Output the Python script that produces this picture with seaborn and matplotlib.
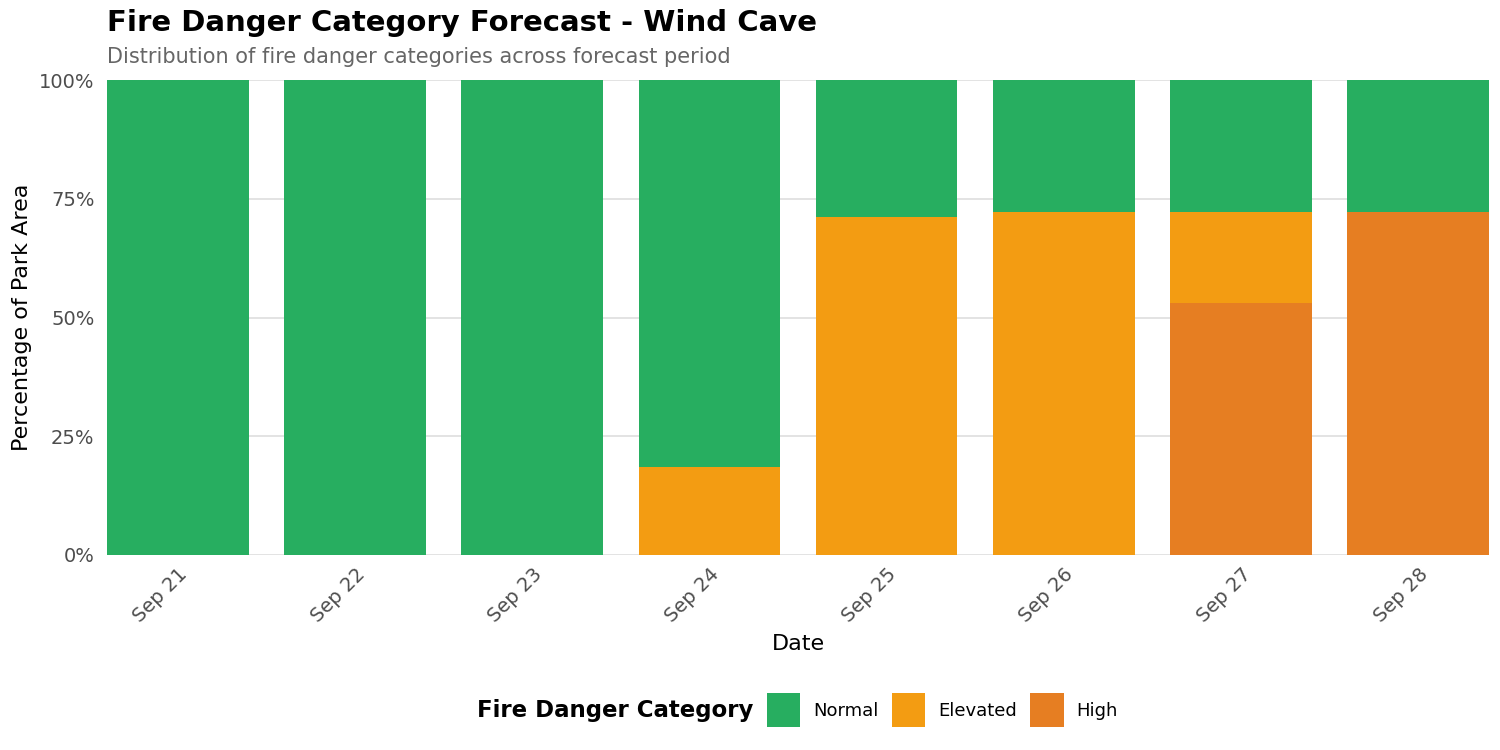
import pandas as pd
import numpy as np
import matplotlib.pyplot as plt
import seaborn as sns
from matplotlib.patches import Patch
from matplotlib.ticker import PercentFormatter

# --- data (percent of park area per category) ---
dates = ['Sep 21', 'Sep 22', 'Sep 23', 'Sep 24', 'Sep 25', 'Sep 26', 'Sep 27', 'Sep 28']
normal = [100.0, 100.0, 100.0, 81.5, 28.8, 27.8, 27.8, 27.8]
elevated = [0.0, 0.0, 0.0, 18.5, 71.2, 72.2, 19.1, 0.0]
high = [0.0, 0.0, 0.0, 0.0, 0.0, 0.0, 53.1, 72.2]

categories = ['Normal', 'Elevated', 'High']
colors = {'Normal': '#27ae60', 'Elevated': '#f39c12', 'High': '#e67e22'}

df = pd.DataFrame({'Date': dates, 'Normal': normal, 'Elevated': elevated, 'High': high})
# cumulative heights for stacking (High at the bottom)
df['top_high'] = df['High']
df['top_elev'] = df['High'] + df['Elevated']
df['top_normal'] = df['top_elev'] + df['Normal']

sns.set_style('white')
plt.rcParams['font.family'] = ['DejaVu Sans']
plt.rcParams['text.color'] = 'black'
plt.rcParams['axes.labelcolor'] = 'black'

fig = plt.figure(figsize=(15, 7.5), dpi=100)
ax = fig.add_axes([0.0713, 0.26, 0.9214, 0.6333])

# draw from tallest layer to shortest so they stack visually
for col, cat in [('top_normal', 'Normal'), ('top_elev', 'Elevated'), ('top_high', 'High')]:
    sns.barplot(data=df, x='Date', y=col, color=colors[cat], width=0.8,
                saturation=1, ax=ax, zorder=2, linewidth=0)

ax.set_xlim(-0.4, len(dates) - 0.6)
ax.set_ylim(0, 100)
ax.set_yticks([0, 25, 50, 75, 100])
ax.yaxis.set_major_formatter(PercentFormatter(decimals=0))
ax.grid(axis='y', color='#e0e0e0', linewidth=1.3, zorder=0)
ax.grid(axis='x', visible=False)
ax.set_axisbelow(True)
for s in ax.spines.values():
    s.set_visible(False)

ax.tick_params(axis='both', length=0, labelsize=14, labelcolor='#4d4d4d')
ax.tick_params(axis='y', pad=9)
ax.tick_params(axis='x', pad=7)
for lab in ax.get_xticklabels():
    lab.set_rotation(45)
    lab.set_ha('right')
    lab.set_rotation_mode('anchor')

ax.set_xlabel('Date', fontsize=16, labelpad=6)
ax.set_ylabel('Percentage of Park Area', fontsize=16, labelpad=5)

fig.text(0.0713, 0.988, 'Fire Danger Category Forecast - Wind Cave',
         fontsize=21, fontweight='bold', va='top', ha='left')
fig.text(0.0713, 0.937, 'Distribution of fire danger categories across forecast period',
         fontsize=15, color='#666666', va='top', ha='left')

# legend at the bottom, title to the left
handles = [Patch(facecolor=colors[c], edgecolor='none', label=c) for c in categories]
fig.text(753 / 1500, 1 - 710 / 750, 'Fire Danger Category', fontsize=16.5,
         fontweight='bold', ha='right', va='center')
fig.legend(handles=handles, loc='center left', bbox_to_anchor=(767 / 1500, 1 - 710 / 750),
           ncol=3, frameon=False, fontsize=13, handlelength=1.85, handleheight=2.45,
           handletextpad=0.7, columnspacing=0.75, borderpad=0, borderaxespad=0)

fig.savefig('out.png', dpi=100)
